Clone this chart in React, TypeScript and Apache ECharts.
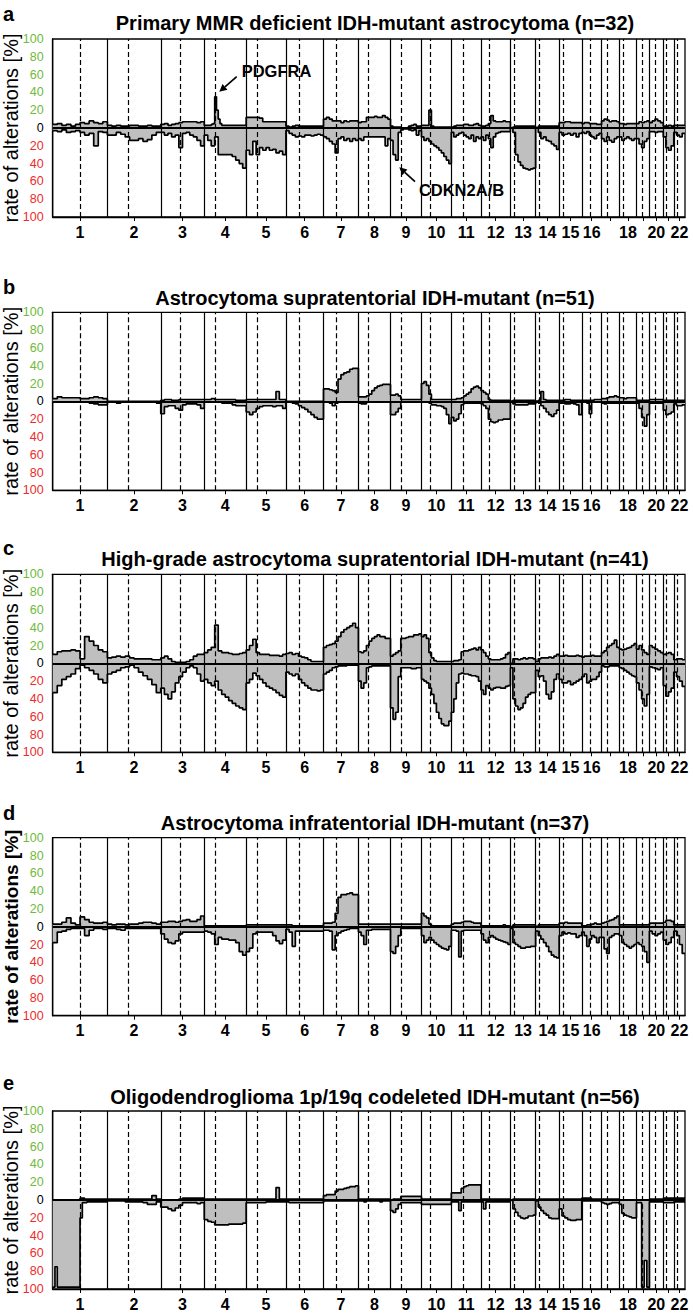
import React, { useEffect, useRef } from 'react';
import * as echarts from 'echarts';

const FONT = '"Liberation Sans", Arial, Helvetica, sans-serif';

// Chromosome geometry (Mb)
const CHR_NAMES = ['1','2','3','4','5','6','7','8','9','10','11','12','13','14','15','16','17','18','19','20','21','22'];
const CHR_LEN = [249,243,198,191,181,171,159,146,141,136,135,134,115,107,103,90,81,78,59,63,48,51];
const CEN_POS = [125,93.3,91,50.4,48.4,61,59.9,45.6,49,40.2,53.7,35.8,17.9,17.6,19,36.6,24,17.2,26.5,27.5,13.2,14.7];
const X_LABELS = ['1','2','3','4','5','6','7','8','9','10','11','12','13','14','15','16','18','20','22'];

const TITLES = [
  'Primary MMR deficient IDH-mutant astrocytoma (n=32)',
  'Astrocytoma supratentorial IDH-mutant (n=51)',
  'High-grade astrocytoma supratentorial IDH-mutant (n=41)',
  'Astrocytoma infratentorial IDH-mutant (n=37)',
  'Oligodendroglioma 1p/19q codeleted IDH-mutant (n=56)',
];
const LETTERS = ['a','b','c','d','e'];

// Rates per chromosome, each list splits its chromosome into equal parts (%)
const GAIN_A = [
  [4,5,3,4,2,4,6,5,8,6,5,7],[3,2,3,2,2,3,3,2,2,3,2,2],[4,5,3,4,5,6,7,7,7,7,6,7],
  [3,3,3,3,4,5,35,20,10,5,3,3,3,3,3,3,3,3,3,3,3,3,3,3],
  [12,12,12,12,11,7,7,7,7,7,7,7],[2,1,2,3,2,2,2,2,2,2,2,2],[10,12,10,8,8,8,6,8,7,8,8,8],
  [6,7,7,12,12,12,13,12,12,14,12,10],[2,1,1,1,0,0,0,2,3,4,2,2],[3,3,3,20,2,1,1,1,1,1,1,1],
  [1,2,3,3,3,4,4,3,3,4,5,3],[2,2,3,5,14,8,7,7,7,8,7,7],[0,1,2,2,2,2,2,2,2,2],
  [0,2,2,2,2,2,2,2,2],[6,6,7,7,6,6,6,6],[5,6,6,5,5,5,4,4],[8,10,9,7,8,8,7],
  [5,5,4,5,5,5,5],[5,7,6,7,8],[6,8,10,8,6],[2,2,3,2],[3,3,3,3],
];
const LOSS_A = [
  [3,4,2,5,4,3,5,8,6,20,4,5],[8,8,5,7,10,14,14,12,15,13,8,5],[5,8,6,10,8,22,6,5,8,10,14,20],
  [8,14,20,10,30,30,30,30,32,36,40,45],[25,30,15,30,22,25,22,25,24,28,26,30],
  [3,6,8,10,9,10,8,8,9,8,7,8],[10,12,15,18,28,12,10,14,12,15,12,14],
  [12,14,10,10,10,10,10,10,10,10,20,12],[14,30,36,5,2,1,1,2,3,2,8,3],
  [10,14,12,15,18,20,22,25,28,32,36,40],[5,10,8,6,5,8,10,12,8,15,10,12],
  [10,14,8,12,22,10,6,5,4,4,4,4],[0,5,30,38,42,45,46,47,46,45],[0,5,12,10,14,15,18,20,24],
  [5,8,7,6,8,6,10,6],[5,6,4,8,10,12,8,6],[12,15,10,14,16,12,10],[10,14,12,10,12,14,12],
  [12,18,22,15,12],[4,4,5,4,4],[10,22,25,20],[5,8,10,6],
];

const GAIN_B = [
  [3,5,4,4,4,4,3,3,4,5,4,3],[0,0,0,0,0,0,0,0,0,0,0,0],[1,2,2,1,1,2,2,2,2,2,2,2],
  [2,2,3,2,2,2,2,2,2,1,1,1],[2,2,2,2,2,2,2,2,2,11,2,2],[0,0,0,0,0,0,0,0,0,0,0,0],
  [14,14,13,12,10,25,30,32,33,36,37,37],[5,5,5,6,8,12,15,17,18,19,19,19],
  [7,7,8,6,2,2,2,2,2,2,2,2],[20,22,18,8,2,2,2,2,2,2,2,2],[2,2,3,3,4,6,8,10,14,16,17,15],
  [12,10,8,2,1,1,1,1,1,1,1,1],[0,1,1,1,1,1,1,1,1,1],[0,1,11,2,1,1,1,1,1],
  [1,1,2,2,1,1,1,1],[1,1,1,1,1,2,2,2],[3,3,4,5,5,6,5],[4,4,3,4,4,4,4],
  [1,1,1,1,1],[2,2,2,2,2],[1,1,1,1],[1,1,1,1],
];
const LOSS_B = [
  [1,1,1,1,1,1,1,1,2,3,4,4],[1,1,2,1,1,1,1,1,1,1,1,2],[14,6,5,5,8,10,4,3,3,3,4,8],
  [1,1,1,1,1,2,2,2,4,5,5,5],[12,15,12,8,6,5,5,5,6,5,5,8],[1,1,2,3,5,7,9,12,15,18,20,20],
  [1,1,2,5,2,1,1,1,1,1,1,1],[2,3,3,1,1,1,1,1,1,1,1,1],[15,15,12,8,1,1,1,1,1,1,1,1],
  [1,1,1,2,4,4,5,5,6,8,15,25],[18,22,20,14,4,2,2,2,2,2,2,2],[3,5,8,20,23,24,23,21,21,20,20,20],
  [0,3,4,4,4,4,4,3,3,3],[0,2,5,8,12,15,17,14,10],[2,2,3,3,2,3,4,15],[1,1,2,14,1,1,1,1],
  [2,3,2,2,2,2,2],[2,2,2,2,2,2,2],[2,8,18,28,15],[2,2,2,2,2],[10,15,14,12],[3,5,5,4],
];

const GAIN_C = [
  [10,13,14,14,15,14,5,30,25,20,15,13],[6,7,8,7,8,6,5,5,5,5,4,4],[6,8,5,2,1,1,1,2,4,8,10,10],
  [12,15,18,43,14,12,12,11,10,10,11,12],[15,20,27,12,10,10,10,9,9,9,8,10],
  [11,12,10,11,8,7,6,4,2,2,2,2],[18,20,21,22,25,30,35,38,40,42,45,40],
  [13,12,14,20,25,28,30,32,30,30,28,28],[8,10,12,14,28,28,29,30,30,32,32,33],
  [30,32,28,12,6,3,2,2,2,2,2,2],[2,3,3,4,13,14,14,15,16,17,15,18],[15,12,8,5,4,4,4,4,5,6,10,12],
  [0,5,5,4,5,6,5,6,6,5],[2,5,6,6,6,7,6,8,10],[8,8,9,8,8,8,9,8],[7,8,8,8,9,8,8,8],
  [12,14,18,20,22,26,18],[16,15,16,17,18,20,22],[16,20,15,12,10],[20,18,16,14,12],
  [10,11,12,10],[4,5,5,4],
];
const LOSS_C = [
  [33,25,18,15,12,6,2,5,8,12,18,22],[12,10,8,5,4,2,5,10,14,18,24,33],
  [28,35,40,32,22,15,10,5,3,5,12,20],[18,22,25,20,30,35,38,42,45,48,50,52],
  [22,18,11,14,18,22,26,28,30,33,36,38],[10,12,14,12,18,22,25,28,30,30,31,30],
  [12,10,8,5,4,3,3,3,2,2,2,2],[20,28,22,5,4,3,3,3,3,3,3,3],[50,63,55,15,5,5,5,5,6,6,5,5],
  [18,20,22,28,35,45,55,62,68,70,70,65],[55,40,22,12,11,12,12,13,14,14,15,20],
  [30,35,25,28,30,28,27,27,28,28,26,25],[5,40,48,52,50,45,38,35,33,33],
  [8,15,14,20,35,40,32,18,12],[18,22,22,20,24,22,20,18],[15,12,22,20,18,18,15,10],
  [3,4,4,3,3,3,3],[5,6,8,10,12,14,15],[22,30,40,48,35],[4,5,6,7,5],[25,37,32,28],[10,15,20,26],
];

const GAIN_D = [
  [3,3,5,10,4,2,11,8,5,4,4,5],[3,2,3,3,2,3,3,4,5,5,4,3],[5,5,6,6,5,6,7,8,6,6,8,12],
  [1,1,1,1,1,1,1,1,1,1,1,1],[2,2,2,2,2,2,2,2,2,2,2,2],[2,2,1,1,1,1,1,1,1,1,1,1],
  [4,4,4,5,15,33,36,36,37,38,36,36],[3,3,3,3,3,3,3,3,3,3,3,3],[3,3,3,3,3,3,3,3,3,3,3,3],
  [15,12,10,3,1,1,1,1,1,1,1,1],[3,4,4,4,5,6,6,6,5,4,4,4],[1,1,1,1,1,1,1,1,1,2,1,1],
  [0,2,2,2,2,2,2,2,2,2],[0,2,2,2,2,2,2,2,2],[4,4,5,4,4,4,4,4],[1,1,2,2,3,4,3,3],
  [4,5,6,7,8,10,12],[2,2,2,2,2,2,2],[2,2,2,2,2],[4,4,4,4,4],[5,7,7,6],[2,2,2,2],
];
const LOSS_D = [
  [18,6,5,3,2,2,2,10,4,2,2,3],[2,2,3,4,2,2,2,2,2,2,2,2],[8,14,18,19,16,8,6,6,6,6,6,6],
  [5,6,8,20,12,14,14,15,15,18,28,32],[28,24,8,6,6,6,6,6,10,16,19,15],[3,6,22,5,5,5,5,5,5,5,5,5],
  [4,4,5,26,10,7,5,4,3,2,2,2],[6,10,20,4,4,3,3,3,3,3,3,3],[28,30,22,10,2,2,2,2,2,2,2,2],
  [10,18,15,12,15,18,20,22,24,25,26,22],[4,4,5,34,5,4,4,4,4,4,4,4],
  [8,15,18,12,10,12,14,15,16,17,18,20],[2,18,20,22,24,24,23,23,22,22],
  [5,10,14,18,22,28,32,34,35],[10,6,8,7,8,8,12,10],[6,10,22,14,10,12,18,12],
  [12,25,30,12,10,8,8],[10,18,20,22,24,22,20],[18,20,22,28,40],[5,8,10,8,6],[15,20,18,12],[5,10,20,30],
];

const GAIN_E = [
  [0,0,0,0,0,0,2,1,1,1,1,1],[1,1,1,1,1,1,1,1,1,1,5,1],[0,0,0,0,0,1,2,2,2,2,2,2],
  [1,1,1,1,1,1,1,1,1,1,1,1],[1,1,1,1,1,1,1,1,1,14,1,1],[1,1,1,1,1,1,1,1,1,1,1,1],
  [5,6,6,6,10,12,12,13,14,15,15,16],[1,1,1,1,1,1,1,1,1,1,1,1],[0,1,1,1,4,4,4,4,4,4,4,4],
  [1,1,1,1,1,1,1,1,1,1,1,1],[8,8,8,8,13,15,16,17,17,17,17,17],[1,1,1,1,1,1,1,1,1,1,1,1],
  [0,1,1,1,1,1,1,1,1,1],[0,1,1,1,1,1,1,1,1],[1,1,1,1,1,1,1,1],[2,2,2,2,1,1,1,1],
  [1,1,1,1,1,1,1],[0,0,0,0,0,0,0],[0,0,0,0,0],[1,1,1,1,1],[2,2,2,2],[2,2,2,2],
];
const LOSS_E = [
  [98,75,98,98,98,98,98,98,98,98,98,98,20,3,3,2,2,2,2,2,2,2,2,2],
  [1,1,1,1,2,2,2,2,3,5,5,2],[8,8,10,12,9,6,3,3,3,3,4,3],[22,24,25,28,28,28,28,27,27,27,27,26],
  [3,3,3,3,3,3,2,2,2,2,2,2],[2,3,3,3,3,3,3,3,3,3,3,3],[1,1,1,1,1,1,1,1,1,1,1,1],
  [1,1,2,1,1,1,1,1,2,1,1,1],[12,14,10,5,3,3,3,3,3,3,3,3],[5,5,5,5,5,5,5,5,5,5,5,5],
  [2,2,2,12,2,2,2,2,2,2,2,2],[2,10,2,2,2,2,2,2,2,2,2,2],[0,10,14,18,20,21,20,18,18,17],
  [1,8,12,15,17,20,21,21,21],[10,18,20,22,23,23,22,22],[1,1,1,1,1,1,1,1],[3,4,5,4,3,3,3],
  [5,15,17,18,19,20,20],[3,3,98,68,98],[2,2,2,2,2],[3,3,3,3],[2,2,2,2],
];

const GAINS = [GAIN_A, GAIN_B, GAIN_C, GAIN_D, GAIN_E];
const LOSSES = [LOSS_A, LOSS_B, LOSS_C, LOSS_D, LOSS_E];

// Layout
const PLOT_LEFT = 52.7;
const PLOT_RIGHT = 8;
const PLOT_H = 178;
const PLOT_TOPS = [39, 312.3, 574.3, 837.7, 1111];
const TITLE_Y = [23, 298.3, 559.3, 823.3, 1096.7];
const LETTER_Y = [13.5, 286.7, 548.3, 813.3, 1083.3];

const OFFSETS: number[] = [];
CHR_LEN.reduce((acc, l) => { OFFSETS.push(acc); return acc + l; }, 0);
const TOTAL = CHR_LEN.reduce((a, b) => a + b, 0);
const MIDS = OFFSETS.map((o, i) => o + CHR_LEN[i] / 2);
const LABEL_MIDS = MIDS.filter((_, i) => X_LABELS.includes(CHR_NAMES[i]));

function stepPoints(profile: number[][], sign: number) {
  const pts: number[][] = [];
  profile.forEach((vals, c) => {
    const L = CHR_LEN[c];
    const off = OFFSETS[c];
    const n = vals.length;
    vals.forEach((v, k) => {
      pts.push([off + (L * k) / n, sign * v]);
      pts.push([off + (L * (k + 1)) / n, sign * v]);
    });
  });
  return pts;
}

function arrow(tail: number[], tip: number[]) {
  const dx = tail[0] - tip[0];
  const dy = tail[1] - tip[1];
  const len = Math.sqrt(dx * dx + dy * dy);
  const ux = dx / len, uy = dy / len;
  const hl = 7.5, hw = 3.8;
  const bx = tip[0] + ux * hl, by = tip[1] + uy * hl;
  const px = -uy, py = ux;
  return [
    { type: 'line', shape: { x1: tail[0], y1: tail[1], x2: bx, y2: by }, style: { stroke: '#000', lineWidth: 1.7 }, z: 10 },
    {
      type: 'polygon',
      shape: { points: [[tip[0], tip[1]], [bx + px * hw, by + py * hw], [bx - px * hw, by - py * hw]] },
      style: { fill: '#000' },
      z: 10,
    },
  ];
}

export default function App() {
  const ref = useRef<HTMLDivElement>(null);

  useEffect(() => {
    if (!ref.current) return;
    const chart = echarts.init(ref.current, undefined, { renderer: 'svg' });

    const grid = PLOT_TOPS.map((top) => ({
      left: PLOT_LEFT, right: PLOT_RIGHT, top, height: PLOT_H,
      containLabel: false, outerBoundsMode: 'none',
      show: true, borderColor: '#000', borderWidth: 1.3, backgroundColor: 'transparent',
    }));

    const xAxis = PLOT_TOPS.map((_, i) => ({
      type: 'value', gridIndex: i, min: 0, max: TOTAL,
      axisLine: { show: true, onZero: false, lineStyle: { color: '#000', width: 1.3 } },
      axisTick: { show: true, customValues: MIDS, length: 4, lineStyle: { color: '#000', width: 1 } },
      axisLabel: {
        customValues: LABEL_MIDS,
        formatter: (v: number) => {
          let best = 0;
          MIDS.forEach((m, k) => { if (Math.abs(m - v) < Math.abs(MIDS[best] - v)) best = k; });
          return CHR_NAMES[best];
        },
        color: '#000', fontWeight: 'bold', fontSize: 16, fontFamily: FONT, margin: 7,
      },
      splitLine: { show: false },
    }));

    const yAxis = PLOT_TOPS.map((_, i) => ({
      type: 'value', gridIndex: i, min: -100, max: 100, interval: 20,
      axisLine: { show: true, lineStyle: { color: '#000', width: 1.3 } },
      axisTick: { show: false },
      axisLabel: {
        formatter: (v: number) => String(Math.abs(v)),
        color: (v: any) => { const n = Number(v); return n > 0 ? '#6fba3a' : n < 0 ? '#ee2b2b' : '#000'; },
        fontSize: 12.5, fontFamily: FONT, margin: 9,
      },
      splitLine: { show: false },
      name: 'rate of alterations [%]',
      nameLocation: 'middle', nameRotate: 90, nameGap: 31.5, nameMoveOverlap: false,
      nameTextStyle: { fontSize: i === 3 ? 19 : 20, fontWeight: i === 3 ? 'bold' : 'normal', color: '#000', fontFamily: FONT },
    }));

    const markData: any[] = [];
    OFFSETS.slice(1).forEach((o) => markData.push({ xAxis: o, lineStyle: { type: 'solid', width: 1.2, color: '#000' } }));
    CEN_POS.forEach((c, i) => markData.push({ xAxis: OFFSETS[i] + c, lineStyle: { type: [5, 3], width: 1.2, color: '#000' } }));
    markData.push({ yAxis: 0, lineStyle: { type: 'solid', width: 2, color: '#000' } });

    const series: any[] = [];
    PLOT_TOPS.forEach((_, i) => {
      series.push({
        type: 'line', xAxisIndex: i, yAxisIndex: i, data: stepPoints(LOSSES[i], -1),
        symbol: 'none', lineStyle: { color: '#000', width: 1.7 },
        areaStyle: { color: '#bfbfbf', opacity: 1 }, silent: true, z: 2,
      });
      series.push({
        type: 'line', xAxisIndex: i, yAxisIndex: i, data: stepPoints(GAINS[i], 1),
        symbol: 'none', lineStyle: { color: '#000', width: 1.7 },
        areaStyle: { color: '#bfbfbf', opacity: 1 }, silent: true, z: 2,
      });
      series.push({
        type: 'line', xAxisIndex: i, yAxisIndex: i, data: [[0, 0]],
        symbol: 'none', lineStyle: { opacity: 0 }, silent: true, z: 3,
        markLine: { symbol: 'none', silent: true, label: { show: false }, emphasis: { disabled: true }, data: markData },
      });
    });

    const graphic: any[] = [];
    TITLES.forEach((t, i) => {
      graphic.push({
        type: 'text', x: 375, y: TITLE_Y[i], z: 10,
        style: { text: t, fill: '#000', fontSize: 20, fontWeight: 'bold', fontFamily: FONT, align: 'center', verticalAlign: 'middle' },
      });
      graphic.push({
        type: 'text', x: 3, y: LETTER_Y[i], z: 10,
        style: { text: LETTERS[i], fill: '#000', fontSize: 20, fontWeight: 'bold', fontFamily: FONT, align: 'left', verticalAlign: 'middle' },
      });
    });
    graphic.push({
      type: 'text', x: 276.5, y: 70.5, z: 10,
      style: { text: 'PDGFRA', fill: '#000', fontSize: 16.5, fontWeight: 'bold', fontFamily: FONT, align: 'center', verticalAlign: 'middle' },
    });
    graphic.push({
      type: 'text', x: 461.5, y: 190, z: 10,
      style: { text: 'CDKN2A/B', fill: '#000', fontSize: 16.5, fontWeight: 'bold', fontFamily: FONT, align: 'center', verticalAlign: 'middle' },
    });
    graphic.push(...arrow([236.7, 76.7], [219.3, 91.7]));
    graphic.push(...arrow([415, 181.7], [399.3, 167.3]));

    chart.setOption({
      animation: false,
      backgroundColor: '#fff',
      textStyle: { fontFamily: FONT },
      grid, xAxis, yAxis, series, graphic,
    });

    return () => chart.dispose();
  }, []);

  return <div ref={ref} style={{ position: 'absolute', left: 0, top: 0, width: 693, height: 1316 }} />;
}
